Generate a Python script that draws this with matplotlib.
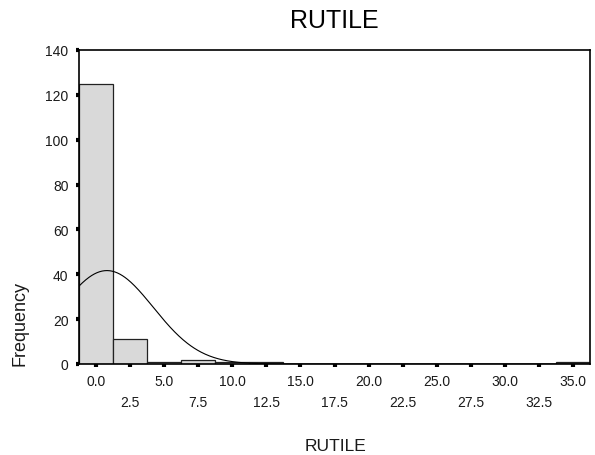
import numpy as np
import matplotlib
matplotlib.use("Agg")
import matplotlib.pyplot as plt
from matplotlib.ticker import FixedLocator

plt.rcParams['font.family'] = ['Liberation Sans', 'DejaVu Sans']

# Histogram of RUTILE: bin centres (width 2.5) and counts
bin_width = 2.5
bin_centers = [0.0, 2.5, 5.0, 7.5, 10.0, 12.5, 35.0]
counts = [125, 11, 1, 2, 1, 1, 1]

# Fitted normal curve parameters
fit_mean = 0.8
fit_std = 3.4

major_ticks = [0.0, 5.0, 10.0, 15.0, 20.0, 25.0, 30.0, 35.0]
minor_ticks = [2.5, 7.5, 12.5, 17.5, 22.5, 27.5, 32.5]
y_ticks = [0, 20, 40, 60, 80, 100, 120, 140]

fig = plt.figure(figsize=(5.95, 4.56), dpi=100)
ax = fig.add_axes([79 / 595, 1 - 365 / 456, (590 - 79) / 595, (365 - 51) / 456])

ax.bar(bin_centers, counts, width=bin_width, color='#d9d9d9',
       edgecolor='#222222', linewidth=0.9, zorder=2)

n_total = sum(counts)
xs = np.linspace(-1.25, 36.25, 600)
ys = n_total * bin_width / (fit_std * np.sqrt(2 * np.pi)) * np.exp(-0.5 * ((xs - fit_mean) / fit_std) ** 2)
ax.plot(xs, ys, color='black', linewidth=0.8, zorder=3)

ax.set_xlim(-1.25, 36.25)
ax.set_ylim(0, 140)

ax.xaxis.set_major_locator(FixedLocator(major_ticks))
ax.xaxis.set_minor_locator(FixedLocator(minor_ticks))
ax.set_xticklabels([f"{v:.1f}" for v in major_ticks])
ax.set_xticklabels([f"{v:.1f}" for v in minor_ticks], minor=True)
ax.set_yticks(y_ticks)
ax.set_yticklabels([str(v) for v in y_ticks])

label_color = '#1a1a1a'
ax.tick_params(axis='x', which='major', direction='out', length=2.5, width=3,
               pad=4.5, labelsize=10, labelcolor=label_color)
ax.tick_params(axis='x', which='minor', direction='out', length=2.5, width=3,
               pad=20, labelsize=10, labelcolor=label_color)
ax.tick_params(axis='y', direction='out', length=2.5, width=3, pad=5,
               labelsize=10, labelcolor=label_color)

for spine in ax.spines.values():
    spine.set_linewidth(1.2)
    spine.set_color('black')

ax.set_title('RUTILE', fontsize=18, pad=16.5)
fig.text(335 / 595, 1 - 451 / 456, 'RUTILE', fontsize=12.5, ha='center',
         va='baseline', color=label_color)
fig.text(20 / 595, 1 - 323 / 456, 'Frequency', fontsize=13, rotation=90,
         ha='center', va='center', color=label_color)

fig.savefig('out.png', dpi=100)
